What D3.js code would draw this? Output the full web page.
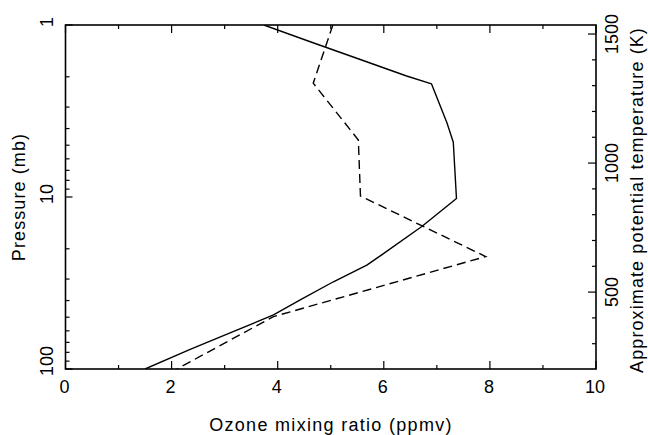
<!DOCTYPE html>
<html>
<head>
<meta charset="utf-8">
<script src="https://cdn.jsdelivr.net/npm/d3@7"></script>
<style>
  html, body { margin: 0; padding: 0; background: #fff; }
  svg { display: block; }
  text { font-family: "Liberation Sans", Arial, sans-serif; fill: #000; }
</style>
</head>
<body>
<svg id="chart" width="648" height="435"></svg>
<script>
// Tick values
const ozoneMajorTicks = [0, 2, 4, 6, 8, 10];
const ozoneMinorTicks = [1, 3, 5, 7, 9];
const pressureMajorTicks = [1, 10, 100];
const pressureMinorTicks = [2, 3, 4, 5, 6, 7, 8, 9, 20, 30, 40, 50, 60, 70, 80, 90];
const thetaMajorTicks = [500, 1000, 1500];
const thetaMinorTicks = [300, 400, 600, 700, 800, 900, 1100, 1200, 1300, 1400];

// Solid profile: pressure (mb) and ozone mixing ratio (ppmv)
const solidPressure = [1.0, 1.26, 1.56, 1.98, 2.2, 3.7, 4.8, 10.2, 14.9, 21.7, 24.9, 31.1, 39.3, 48.5, 60.7, 76.8, 100];
const solidOzone    = [3.74, 4.64, 5.49, 6.43, 6.90, 7.19, 7.31, 7.37, 6.71, 5.96, 5.68, 5.05, 4.45, 3.92, 3.16, 2.35, 1.50];

// Dashed profile
const dashedPressure = [1.0, 2.18, 4.66, 9.87, 22.2, 49.6, 100];
const dashedOzone    = [5.04, 4.67, 5.52, 5.56, 7.92, 3.92, 2.10];

const svg = d3.select("#chart");
const plotLeft = 65.5, plotRight = 596, plotTop = 25, plotBottom = 369;

const x = d3.scaleLinear().domain([0, 10]).range([plotLeft, plotRight]);
const y = d3.scaleLog().domain([1, 100]).range([plotTop, plotBottom]);
const yTheta = d3.scaleLinear().domain([202, 1535]).range([plotBottom, plotTop]);

const axisColor = "#000";

// Profiles
const line = d3.line().x(d => x(d[1])).y(d => y(d[0]));
const solid = solidPressure.map((p, i) => [p, solidOzone[i]]);
const dashed = dashedPressure.map((p, i) => [p, dashedOzone[i]]);

svg.append("defs").append("clipPath").attr("id", "plotClip")
  .append("rect").attr("x", plotLeft).attr("y", plotTop)
  .attr("width", plotRight - plotLeft).attr("height", plotBottom - plotTop);

const plot = svg.append("g").attr("clip-path", "url(#plotClip)");
plot.append("path").datum(solid).attr("d", line)
  .attr("fill", "none").attr("stroke", "#000").attr("stroke-width", 1.4)
  .attr("stroke-linejoin", "round");
plot.append("path").datum(dashed).attr("d", line)
  .attr("fill", "none").attr("stroke", "#000").attr("stroke-width", 1.4)
  .attr("stroke-dasharray", "9,5");

// Tick marks drawn inward on all four sides
function ticks(g, vals, len, orient) {
  g.selectAll("line").data(vals).join("line")
    .attr("stroke", axisColor).attr("stroke-width", 1.2)
    .each(function(v) {
      const s = d3.select(this);
      if (orient === "bottom") s.attr("x1", x(v)).attr("x2", x(v)).attr("y1", plotBottom).attr("y2", plotBottom - len);
      if (orient === "top") s.attr("x1", x(v)).attr("x2", x(v)).attr("y1", plotTop).attr("y2", plotTop + len);
      if (orient === "left") s.attr("y1", y(v)).attr("y2", y(v)).attr("x1", plotLeft).attr("x2", plotLeft + len);
      if (orient === "right") s.attr("y1", yTheta(v)).attr("y2", yTheta(v)).attr("x1", plotRight).attr("x2", plotRight - len);
    });
}
ticks(svg.append("g"), ozoneMajorTicks, 8, "bottom");
ticks(svg.append("g"), ozoneMinorTicks, 4, "bottom");
ticks(svg.append("g"), ozoneMajorTicks, 8, "top");
ticks(svg.append("g"), ozoneMinorTicks, 4, "top");
ticks(svg.append("g"), pressureMajorTicks, 7, "left");
ticks(svg.append("g"), pressureMinorTicks, 4, "left");
ticks(svg.append("g"), thetaMajorTicks, 8, "right");
ticks(svg.append("g"), thetaMinorTicks, 4, "right");

// Frame
svg.append("rect").attr("x", plotLeft).attr("y", plotTop)
  .attr("width", plotRight - plotLeft).attr("height", plotBottom - plotTop)
  .attr("fill", "none").attr("stroke", axisColor).attr("stroke-width", 1.6);

// Bottom tick labels
svg.append("g").selectAll("text").data(ozoneMajorTicks).join("text")
  .attr("x", d => x(d) - 1).attr("y", 393)
  .attr("text-anchor", "middle").attr("font-size", 18)
  .text(d => d);

// Left tick labels (rotated)
svg.append("g").selectAll("text").data(pressureMajorTicks).join("text")
  .attr("transform", d => `translate(53,${Math.min(y(d) - 3, plotBottom - 8)}) rotate(-90)`)
  .attr("text-anchor", "middle").attr("font-size", 18)
  .text(d => d);

// Right tick labels (rotated)
svg.append("g").selectAll("text").data(thetaMajorTicks).join("text")
  .attr("transform", d => `translate(618,${yTheta(d)}) rotate(-90)`)
  .attr("text-anchor", "middle").attr("font-size", 18)
  .text(d => d);

// Axis titles
svg.append("text").attr("x", 331).attr("y", 431)
  .attr("text-anchor", "middle").attr("font-size", 18)
  .style("letter-spacing", "1.3px")
  .text("Ozone mixing ratio (ppmv)");

svg.append("text").attr("transform", "translate(25,197) rotate(-90)")
  .attr("text-anchor", "middle").attr("font-size", 18)
  .style("letter-spacing", "1.1px")
  .text("Pressure (mb)");

svg.append("text").attr("transform", "translate(643,200) rotate(-90)")
  .attr("text-anchor", "middle").attr("font-size", 18)
  .style("letter-spacing", "1.1px")
  .text("Approximate potential temperature (K)");
</script>
</body>
</html>
